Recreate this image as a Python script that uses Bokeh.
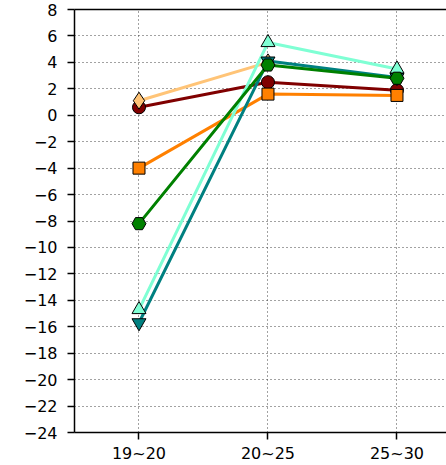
from bokeh.plotting import figure
from bokeh.models import Range1d, LinearAxis, FixedTicker
from bokeh.embed import file_html
from bokeh.resources import INLINE

categories = ["19~20", "20~25", "25~30"]
y_ticks = list(range(-24, 9, 2))

s_darkred = [0.6, 2.5, 1.9]
s_lightorange = [1.1, 4.0]
s_orange = [-4.0, 1.6, 1.5]
s_aqua = [-14.7, 5.5, 3.5]
s_teal = [-15.7, 4.1, 2.85]
s_green = [-8.2, 3.8, 2.8]

series = [
    (s_darkred, "#800000", "circle", 13),
    (s_lightorange, "#ffc477", "diamond", 17),
    (s_orange, "#ff8000", "square", 12),
    (s_aqua, "#7fffd4", "triangle", 14),
    (s_teal, "#008080", "inverted_triangle", 14),
    (s_green, "#008000", "hex", 14),
]

p = figure(width=446, height=465, output_backend="svg", toolbar_location=None,
           x_range=Range1d(-0.5, 2.384), y_range=Range1d(-24, 8),
           min_border_left=74, min_border_top=9, min_border_right=0, min_border_bottom=31)
p.outline_line_color = None
p.background_fill_color = "white"

font = "DejaVu Sans"
for ax in (p.xaxis[0], p.yaxis[0]):
    ax.axis_line_color = "black"
    ax.axis_line_width = 1.5
    ax.major_tick_line_color = "black"
    ax.major_tick_line_width = 1.5
    ax.major_tick_out = 7
    ax.major_tick_in = 0
    ax.minor_tick_line_color = None
    ax.major_label_text_font = font
    ax.major_label_text_font_size = "16px"
    ax.major_label_text_color = "black"

p.xaxis[0].ticker = FixedTicker(ticks=list(range(len(categories))))
p.xaxis[0].major_label_overrides = {i: c for i, c in enumerate(categories)}
p.xaxis[0].major_label_standoff = 4
p.yaxis[0].ticker = FixedTicker(ticks=y_ticks)
p.yaxis[0].major_label_standoff = 10

top = LinearAxis(ticker=FixedTicker(ticks=[]), major_tick_line_color=None,
                 minor_tick_line_color=None, axis_line_color="black", axis_line_width=1.5)
p.add_layout(top, "above")

p.xgrid.ticker = FixedTicker(ticks=list(range(len(categories))))
p.ygrid.ticker = FixedTicker(ticks=y_ticks)
for g in (p.xgrid[0], p.ygrid[0]):
    g.grid_line_color = "#444444"
    g.grid_line_dash = "1 3"
    g.grid_line_width = 1

for vals, color, marker, size in series:
    xs = list(range(len(vals)))
    p.line(xs, vals, line_color=color, line_width=3)
for vals, color, marker, size in series:
    xs = list(range(len(vals)))
    p.scatter(xs, vals, marker=marker, size=size, fill_color=color, line_color="black", line_width=1)

open("out.html", "w").write(file_html(p, INLINE))
